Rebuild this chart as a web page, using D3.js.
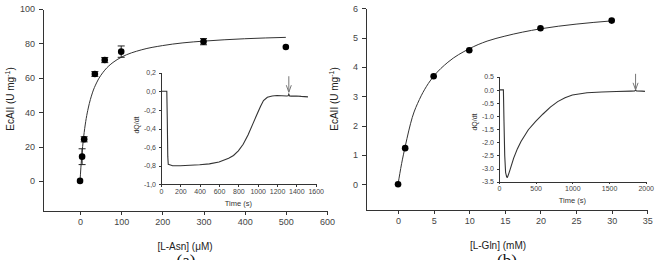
<!DOCTYPE html>
<html>
<head>
<meta charset="utf-8">
<script src="https://cdn.jsdelivr.net/npm/d3@7/dist/d3.min.js"></script>
<style>
  html, body { margin: 0; padding: 0; background: #fff; }
  svg { display: block; font-family: "Liberation Sans", Arial, sans-serif; }
  .axis path, .axis line { stroke: #333; stroke-width: 1; shape-rendering: crispEdges; }
  .axis text { fill: #444; }
</style>
</head>
<body>
<svg id="chart" width="663" height="260"></svg>
<script>
// ---------- Data ----------
// Panel (a): L-Asn
const asnConc      = [0, 5, 10, 36, 60, 100, 300, 500];
const asnRate      = [0, 14.1, 24.2, 62.2, 70.3, 75.2, 81.0, 77.9];
const asnErr       = [0, 4.6, 1.5, 1.4, 1.5, 3.3, 1.8, 0];
const asnFitX      = [0, 2, 5, 10, 15, 20, 30, 40, 60, 80, 100, 150, 200, 250, 300, 400, 500];
const asnFitY      = [0, 7.6, 16.7, 28.1, 36.3, 42.4, 51.2, 57.0, 64.4, 68.9, 71.9, 76.3, 78.7, 80.3, 81.3, 82.7, 83.5];
const asnXTicks    = [0, 100, 200, 300, 400, 500, 600];
const asnYTicks    = [0, 20, 40, 60, 80, 100];

// Inset (a): thermogram
const asnTime      = [0, 60, 65, 70, 75, 90, 120, 200, 300, 400, 500, 600, 700, 750, 800, 850, 900, 950, 1000, 1030, 1060, 1100, 1150, 1200, 1300, 1315, 1322, 1330, 1345, 1400, 1450, 1520];
const asnPower     = [0, 0, -0.3, -0.7, -0.785, -0.79, -0.8, -0.8, -0.795, -0.79, -0.78, -0.76, -0.72, -0.69, -0.64, -0.57, -0.47, -0.35, -0.23, -0.16, -0.1, -0.065, -0.05, -0.045, -0.05, -0.048, -0.03, -0.05, -0.052, -0.05, -0.055, -0.06];
const asnTimeTicks = [0, 200, 400, 600, 800, 1000, 1200, 1400, 1600];
const asnPowTicks  = [-1.0, -0.8, -0.6, -0.4, -0.2, 0.0, 0.2];
const asnArrowTime = 1322;

// Panel (b): L-Gln
const glnConc      = [0, 1, 5, 10, 20, 30];
const glnRate      = [0, 1.23, 3.68, 4.57, 5.32, 5.58];
const glnFitX      = [0, 0.5, 1, 2, 3, 4, 5, 7, 10, 12.5, 15, 20, 25, 30];
const glnFitY      = [0, 0.7, 1.28, 2.28, 2.89, 3.34, 3.68, 4.16, 4.62, 4.88, 5.05, 5.30, 5.46, 5.57];
const glnXTicks    = [0, 5, 10, 15, 20, 25, 30, 35];
const glnYTicks    = [0, 1, 2, 3, 4, 5, 6];

// Inset (b): thermogram
const glnTime      = [0, 60, 68, 78, 90, 105, 115, 130, 150, 200, 250, 300, 400, 500, 600, 700, 800, 900, 1000, 1200, 1400, 1600, 1800, 1850, 1862, 1875, 1950, 1990];
const glnPower     = [0, 0, -1.2, -2.5, -3.15, -3.32, -3.33, -3.22, -3.05, -2.6, -2.25, -1.97, -1.52, -1.2, -0.92, -0.66, -0.45, -0.3, -0.2, -0.11, -0.08, -0.065, -0.05, -0.045, 0.0, -0.045, -0.05, -0.06];
const glnTimeTicks = [0, 500, 1000, 1500, 2000];
const glnPowTicks  = [-3.5, -3.0, -2.5, -2.0, -1.5, -1.0, -0.5, 0.0, 0.5];
const glnArrowTime = 1862;

// ---------- Drawing ----------
const svg = d3.select("#chart");
svg.append("rect").attr("width", 663).attr("height", 260).attr("fill", "#fff");

const commaFmt = d => d3.format(".1f")(d).replace(".", ",").replace("−", "-");
const dotFmt = d => d3.format(".1f")(d).replace("−", "-");

function mainPanel(o) {
  const g = svg.append("g");
  const x = d3.scaleLinear().domain(o.xDom).range(o.xRange);
  const y = d3.scaleLinear().domain(o.yDom).range(o.yRange);

  const xa = g.append("g").attr("class", "axis")
    .attr("transform", `translate(0,${o.yRange[0]})`)
    .call(d3.axisBottom(x).tickValues(o.xTicks).tickSize(4).tickSizeOuter(0).tickPadding(4).tickFormat(d3.format("d")));
  xa.selectAll("text").attr("font-size", 9);
  const ya = g.append("g").attr("class", "axis")
    .attr("transform", `translate(${o.xRange[0]},0)`)
    .call(d3.axisLeft(y).tickValues(o.yTicks).tickSize(4).tickSizeOuter(0).tickPadding(4).tickFormat(d3.format("d")));
  ya.selectAll("text").attr("font-size", 9);

  // fit curve
  const fit = o.fitX.map((v, i) => [v, o.fitY[i]]);
  g.append("path").datum(fit)
    .attr("fill", "none").attr("stroke", "#333").attr("stroke-width", 1)
    .attr("d", d3.line().x(d => x(d[0])).y(d => y(d[1])).curve(d3.curveMonotoneX));

  // error bars
  if (o.err) {
    o.px.forEach((v, i) => {
      const e = o.err[i];
      if (!e) return;
      const cx = x(v), y1 = y(o.py[i] - e), y2 = y(o.py[i] + e);
      g.append("line").attr("x1", cx).attr("x2", cx).attr("y1", y1).attr("y2", y2).attr("stroke", "#222");
      [y1, y2].forEach(yy => g.append("line").attr("x1", cx - 3.5).attr("x2", cx + 3.5)
        .attr("y1", yy).attr("y2", yy).attr("stroke", "#222"));
    });
  }
  // points
  g.selectAll("circle.pt").data(o.px.map((v, i) => [v, o.py[i]])).join("circle")
    .attr("class", "pt").attr("cx", d => x(d[0])).attr("cy", d => y(d[1])).attr("r", 3.3).attr("fill", "#000");

  // labels
  const ylab = g.append("text").attr("transform", `translate(${o.yLabX},${o.yLabY}) rotate(-90)`)
    .attr("text-anchor", "middle").attr("font-size", 10).attr("fill", "#222");
  ylab.append("tspan").text("EcAII (U mg");
  ylab.append("tspan").attr("font-size", 7).attr("dy", -4).text("-1");
  ylab.append("tspan").attr("dy", 4).text(")");

  g.append("text").attr("x", o.xLabX).attr("y", o.xLabY).attr("text-anchor", "middle")
    .attr("font-size", 10).attr("fill", "#222").text(o.xLabel);
  g.append("text").attr("x", o.tagX).attr("y", 266).attr("text-anchor", "middle")
    .attr("font-family", "'Liberation Serif', 'Times New Roman', serif").attr("font-size", 17)
    .attr("fill", "#111").text(o.tag);
}

function inset(o) {
  const g = svg.append("g");
  const x = d3.scaleLinear().domain(o.xDom).range(o.xRange);
  const y = d3.scaleLinear().domain(o.yDom).range(o.yRange);
  const xa = g.append("g").attr("class", "axis")
    .attr("transform", `translate(0,${o.yRange[0]})`)
    .call(d3.axisBottom(x).tickValues(o.xTicks).tickSize(2.5).tickSizeOuter(0).tickPadding(2).tickFormat(d3.format("d")));
  xa.selectAll("text").attr("font-size", 7);
  const ya = g.append("g").attr("class", "axis")
    .attr("transform", `translate(${o.xRange[0]},0)`)
    .call(d3.axisLeft(y).tickValues(o.yTicks).tickSize(2.5).tickSizeOuter(0).tickPadding(2.5).tickFormat(o.fmt));
  ya.selectAll("text").attr("font-size", 7);

  const pts = o.t.map((v, i) => [v, o.p[i]]);
  g.append("path").datum(pts).attr("fill", "none").attr("stroke", "#333").attr("stroke-width", 1.1)
    .attr("d", d3.line().x(d => x(d[0])).y(d => y(d[1])));

  // arrow marking the injection
  const ax = x(o.arrowT), ay2 = y(o.arrowTipVal), ay1 = ay2 - 16;
  g.append("line").attr("x1", ax).attr("x2", ax).attr("y1", ay1).attr("y2", ay2).attr("stroke", "#777").attr("stroke-width", 1);
  g.append("polyline").attr("points", `${ax - 2.5},${ay2 - 7} ${ax},${ay2} ${ax + 2.5},${ay2 - 7}`)
    .attr("fill", "none").attr("stroke", "#777").attr("stroke-width", 1);

  g.append("text").attr("transform", `translate(${o.yLabX},${o.yLabY}) rotate(-90)`)
    .attr("text-anchor", "middle").attr("font-size", 7).attr("fill", "#333").text("dQ/dt");
  g.append("text").attr("x", (o.xRange[0] + o.xRange[1]) / 2).attr("y", o.xLabY)
    .attr("text-anchor", "middle").attr("font-size", 7.5).attr("fill", "#333").text("Time (s)");
}

mainPanel({
  xDom: [-90, 600], xRange: [43, 327], yDom: [-17.5, 100], yRange: [211, 9],
  xTicks: asnXTicks, yTicks: asnYTicks,
  fitX: asnFitX, fitY: asnFitY, px: asnConc, py: asnRate, err: asnErr,
  yLabX: 14, yLabY: 99, xLabX: 185, xLabY: 250, xLabel: "[L-Asn] (\u03BCM)", tagX: 186, tag: "(a)"
});
inset({
  xDom: [0, 1600], xRange: [161, 315.7], yDom: [-1, 0.2], yRange: [184.3, 72.7],
  xTicks: asnTimeTicks, yTicks: asnPowTicks, fmt: commaFmt,
  t: asnTime, p: asnPower, arrowT: asnArrowTime, arrowTipVal: -0.01,
  yLabX: 139, yLabY: 125, xLabY: 206
});
mainPanel({
  xDom: [-4.5, 35], xRange: [366, 647.3], yDom: [-0.88, 6], yRange: [210, 8.3],
  xTicks: glnXTicks, yTicks: glnYTicks,
  fitX: glnFitX, fitY: glnFitY, px: glnConc, py: glnRate, err: null,
  yLabX: 338, yLabY: 99, xLabX: 498, xLabY: 249, xLabel: "[L-Gln] (mM)", tagX: 507, tag: "(b)"
});
inset({
  xDom: [0, 2000], xRange: [499, 645.7], yDom: [-3.5, 0.5], yRange: [181.7, 76.7],
  xTicks: glnTimeTicks, yTicks: glnPowTicks, fmt: dotFmt,
  t: glnTime, p: glnPower, arrowT: glnArrowTime, arrowTipVal: 0.0,
  yLabX: 477, yLabY: 122, xLabY: 203
});
</script>
</body>
</html>
